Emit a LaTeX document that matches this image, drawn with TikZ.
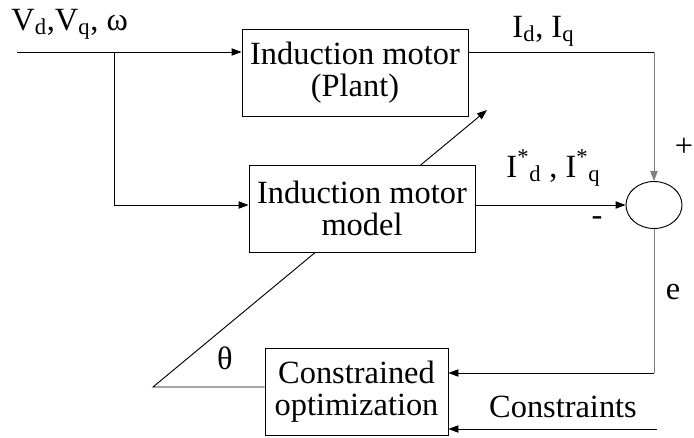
\documentclass[tikz,border=0pt]{standalone}
\usepackage{fontspec}
\setmainfont{Liberation Serif}
\usetikzlibrary{arrows.meta,shapes.geometric}

\begin{document}
\begin{tikzpicture}[x=0.75pt,y=-0.75pt,line width=0.7pt,
		every node/.style={font=\fontsize{24.3}{24}\selectfont},
		blk/.style={draw,fill=white,align=center,minimum width=169.5pt,minimum height=65.25pt,inner sep=0pt},
		lbl/.style={inner sep=0pt},
		arr/.style={-{Triangle[length=7.5pt,width=5.5pt]}}]
		\useasboundingbox (0,0) rectangle (694,437);
		
		\node[blk] (plant) at (355,72.5) {Induction motor\\(Plant)};
		\node[blk,minimum width=137.25pt] (opt) at (356.5,391.5) {Constrained\\optimization};
		
		% theta goes under the model block
		\coordinate (tl) at (153,387);
		\coordinate (tip) at (487,110);
		\draw[arr] (opt.west |- tl) -- (tl) -- (tip);
		
		\node[blk] (model) at (362,208.5) {Induction motor\\model};
		\node[draw,ellipse,minimum width=42pt,minimum height=35.25pt,inner sep=0pt] (sum) at (654,205) {};
		
		\coordinate (in) at (17,52);
		\coordinate (br) at (114,52);
		\coordinate (lo) at (114,205);
		\draw[arr] (in) -- (in -| plant.west);
		\draw[arr] (br) -- (lo) -- (lo -| model.west);
		
		\coordinate (c1) at (654,52);
		\draw (in -| plant.east) -- (c1);
		\draw[gray,arr] (c1) -- (sum.north);
		\draw[arr] (lo -| model.east) -- (sum.west);
		
		\coordinate (c2) at (654,373);
		\draw[gray] (sum.south) -- (c2);
		\draw[arr] (c2) -- (c2 -| opt.east);
		\coordinate (cin) at (657,429);
		\draw[arr] (cin) -- (cin -| opt.east);
		
		\node[lbl,anchor=base west] (vin) at (11,30) {V\textsubscript{d},V\textsubscript{q}, ω};
		\node[lbl,anchor=base west] (iout) at (512,37) {I\textsubscript{d}, I\textsubscript{q}};
		\node[lbl,anchor=base west] (imod) at (506,177) {I\textsuperscript{*}\textsubscript{d} , I\textsuperscript{*}\textsubscript{q}};
		\node[lbl] (minus) at (597,221) {-};
		\node[lbl] (plus) at (684,147) {+};
		\node[lbl] (err) at (673,292) {e};
		\node[lbl] (th) at (225,358) {θ};
		\node[lbl] (cons) at (563,407) {Constraints};
	\end{tikzpicture}
\end{document}
